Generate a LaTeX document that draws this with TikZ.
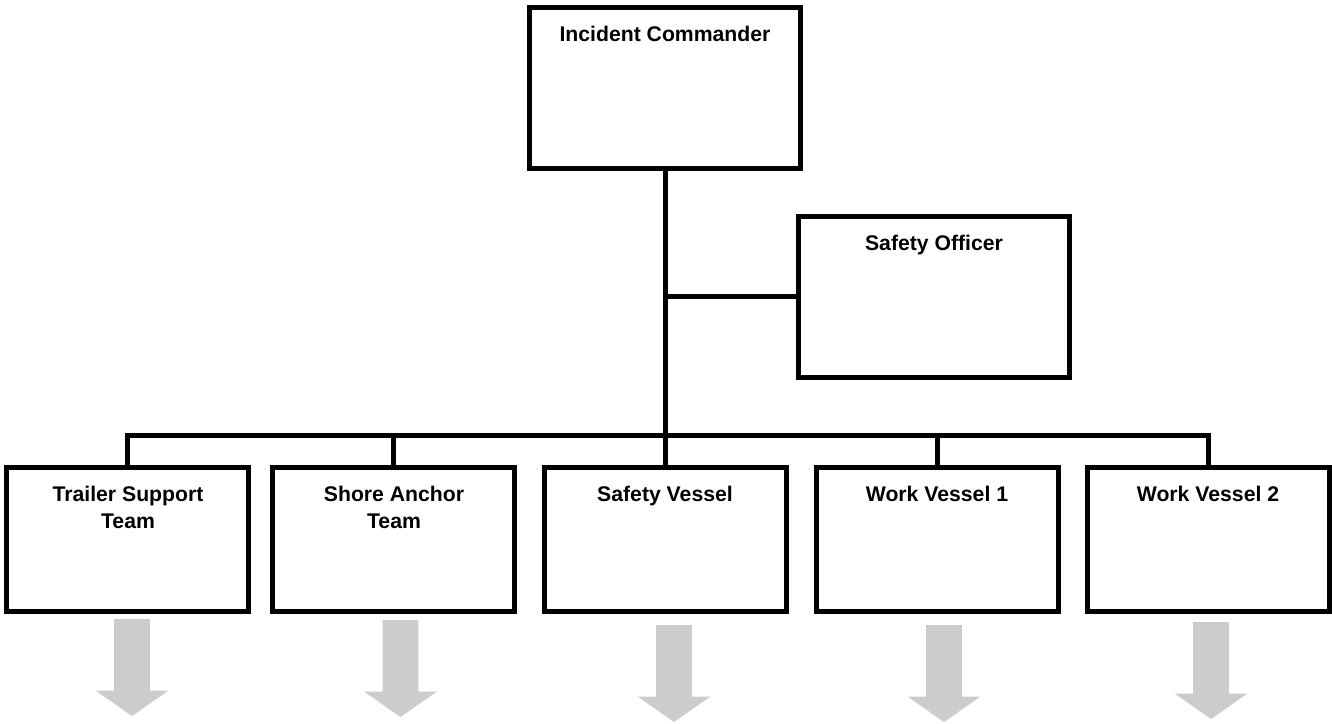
\documentclass[tikz,border=0pt]{standalone}
\usepackage{fontspec}
\setmainfont{Liberation Sans}
\usetikzlibrary{positioning, shapes.arrows}

\tikzstyle{line} = [line width=2.5pt]
\tikzstyle{topbox} = [
rectangle, draw=black, line width=2.5pt, inner sep=0pt, outer sep=0pt,
font=\bfseries\fontsize{10.6}{13.5}\selectfont
]
\tikzstyle{teambox} = [topbox]
\tikzstyle{down} = [
single arrow, fill=black!20, draw=none, shape border rotate=270,
inner sep=8.75pt, outer sep=0pt,
minimum height=48.5pt, minimum width=36pt,
single arrow head extend=9.25pt, single arrow tip angle=110
]
\newcommand{\boxlabel}[3]{\parbox[c][#2][t]{#1}{\centering\rule{0pt}{17pt}#3\par}}

\begin{document}
\begin{tikzpicture}
	\useasboundingbox (-332.5pt,43.75pt) rectangle (333.5pt,-317.75pt);
	% Boxes
	\node (IC) [topbox] at (0,0) {\boxlabel{135.5pt}{80.5pt}{Incident Commander}};
	\node (SO) [topbox, below right=24pt and -1pt of IC] {\boxlabel{135.5pt}{80.5pt}{Safety Officer}};
	\node (SV) [teambox, below=149.5pt of IC] {\boxlabel{121pt}{72pt}{Safety Vessel}};
	\node (SAT) [teambox, left=14.5pt of SV] {\boxlabel{121pt}{72pt}{Shore Anchor\\Team}};
	\node (TST) [teambox, left=12pt of SAT] {\boxlabel{121pt}{72pt}{Trailer Support\\Team}};
	\node (WV1) [teambox, right=15pt of SV] {\boxlabel{121pt}{72pt}{Work Vessel 1}};
	\node (WV2) [teambox, right=14.5pt of WV1] {\boxlabel{121pt}{72pt}{Work Vessel 2}};

	% Arrows
	\node (A_TST) [down, below=4pt of TST, xshift=2pt] {};
	\node (A_SAT) [down, below=4.5pt of SAT, xshift=3.25pt] {};
	\node (A_SV) [down, below=7pt of SV, xshift=4.5pt] {};
	\node (A_WV1) [down, below=7pt of WV1, xshift=3.5pt] {};
	\node (A_WV2) [down, below=5.5pt of WV2, xshift=1.5pt] {};

	% Connections
	\coordinate [above=15.75pt of SV.north] (bar);
	\draw [line] (IC.south) -- (SV.north);
	\draw [line] (IC.south |- SO.west) -- (SO.west);
	\draw [line] (TST.north) |- (bar) -| (WV2.north);
	\draw [line] (SAT.north) -- (SAT.north |- bar);
	\draw [line] (WV1.north) -- (WV1.north |- bar);
\end{tikzpicture}
\end{document}
